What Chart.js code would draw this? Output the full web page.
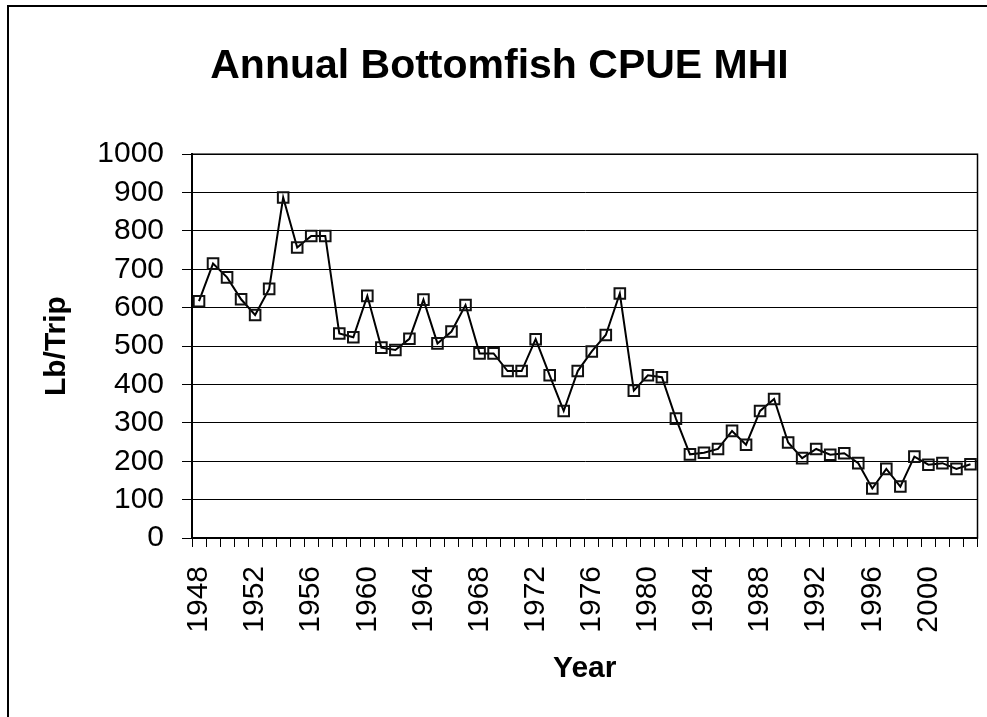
<!DOCTYPE html>
<html>
<head>
<meta charset="utf-8">
<script src="https://cdn.jsdelivr.net/npm/chart.js@4"></script>
<style>
html,body{margin:0;padding:0;background:#fff;}
#wrap{position:relative;width:987px;height:717px;}
#frame{position:absolute;left:7px;top:5px;right:0;bottom:0;border-top:2px solid #000;border-left:2px solid #000;pointer-events:none;}
canvas{position:absolute;left:0;top:0;}
</style>
</head>
<body>
<div id="wrap">
<canvas id="cpue" width="987" height="717"></canvas>
<div id="frame"></div>
</div>
<script>
// annual bottomfish catch per unit effort, main Hawaiian islands
const years = ['1948','1949','1950','1951','1952','1953','1954','1955','1956','1957',
'1958','1959','1960','1961','1962','1963','1964','1965','1966','1967',
'1968','1969','1970','1971','1972','1973','1974','1975','1976','1977',
'1978','1979','1980','1981','1982','1983','1984','1985','1986','1987',
'1988','1989','1990','1991','1992','1993','1994','1995','1996','1997',
'1998','1999','2000','2001','2002','2003'];

const lbPerTrip = [617,715,679,622,581,649,887,757,787,787,
533,523,631,496,490,519,621,507,538,607,
481,481,435,435,518,424,331,435,486,529,
637,384,424,419,311,218,222,232,279,243,
331,362,249,208,232,217,221,195,129,180,
134,212,191,195,180,192];

const yearLabels = ['1948','1952','1956','1960','1964','1968','1972','1976','1980','1984','1988','1992','1996','2000'];

const font = 'Liberation Sans, Arial, sans-serif';

// plot frame
const frame = {
id:'frame',
afterDatasetsDraw(chart){
const a = chart.chartArea;
const ctx = chart.ctx;
ctx.save();
ctx.strokeStyle = '#000';
ctx.lineWidth = 1.5;
ctx.strokeRect(a.left, a.top, a.right - a.left, a.bottom - a.top);
ctx.restore();
}
};

new Chart(document.getElementById('cpue'),{
type:'line',
data:{
labels:years,
datasets:[{
data:lbPerTrip,
borderColor:'#000',
borderWidth:2,
tension:0,
pointStyle:'rect',
pointRadius:7.5,
pointBorderWidth:2,
pointBorderColor:'#111',
pointBackgroundColor:'rgba(0,0,0,0)'
}]
},
options:{
responsive:false,
animation:false,
layout:{padding:{left:20,right:8,top:0,bottom:0}},
plugins:{
legend:{display:false},
tooltip:{enabled:false},
title:{
display:true,
text:'Annual Bottomfish CPUE MHI',
color:'#000',
font:{family:font,size:41,weight:'bold',lineHeight:1.2},
padding:{top:42,bottom:63}
}
},
scales:{
x:{
offset:true,
grid:{offset:true,drawOnChartArea:false,drawTicks:true,tickLength:9,color:'#000',lineWidth:1},
border:{color:'#000',width:2},
ticks:{
autoSkip:false,
maxRotation:90,
minRotation:90,
padding:19,
color:'#000',
font:{family:font,size:30},
callback(v){
const l = this.getLabelForValue(v);
return yearLabels.includes(l) ? l : '';
}
},
title:{display:true,text:'Year',color:'#000',font:{family:font,size:30,weight:'bold',lineHeight:1.2},padding:{top:0,bottom:30}},
afterFit(s){ s.height = 179; s.paddingLeft = 0; s.paddingRight = 0; }
},
y:{
min:0,
max:1000,
grid:{color:'#000',lineWidth:1,tickLength:10},
border:{color:'#000',width:2},
ticks:{stepSize:100,autoSkip:false,padding:18,color:'#000',font:{family:font,size:30},callback:v => String(v)},
title:{display:true,text:'Lb/Trip',color:'#000',font:{family:font,size:30,weight:'bold',lineHeight:1.2},padding:{top:19,bottom:0}},
afterFit(s){ s.width = 172; s.paddingTop = 0; s.paddingBottom = 0; }
}
}
},
plugins:[frame]
});
</script>
</body>
</html>
